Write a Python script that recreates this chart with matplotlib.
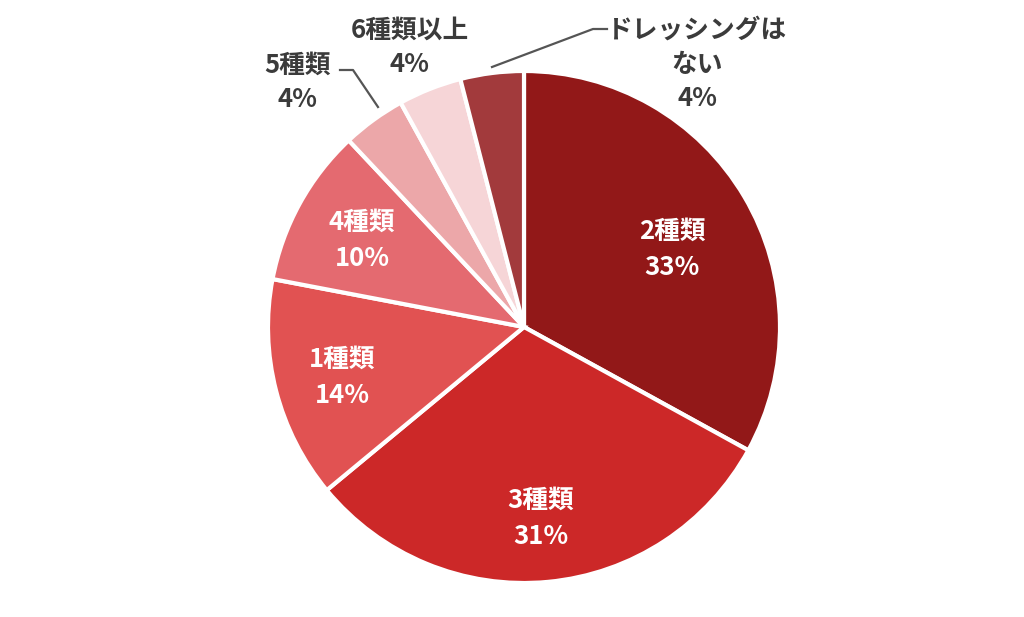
import matplotlib
matplotlib.use("Agg")
import matplotlib.pyplot as plt

plt.rcParams['font.family'] = ['Noto Sans CJK JP', 'DejaVu Sans']

# データ
labels = ['2種類', '3種類', '1種類', '4種類', '5種類', '6種類以上', 'ドレッシングは\nない']
values = [33, 31, 14, 10, 4, 4, 4]
colors = ['#921818', '#cc2828', '#e15252', '#e46a70', '#eca7a9', '#f6d5d7', '#a23a3c']

W, H = 1024, 617
fig = plt.figure(figsize=(W / 100, H / 100), dpi=100)
ax = fig.add_axes([0, 0, 1, 1])

def Y(py):
    # 画像座標 -> データ座標
    return H - py

cx, cy, r = 524, 327, 256
ax.pie(values, colors=colors, startangle=90, counterclock=False,
       center=(cx, Y(cy)), radius=r, frame=True,
       wedgeprops=dict(edgecolor='white', linewidth=3))
ax.set_xlim(0, W)
ax.set_ylim(0, H)
ax.axis('off')

fs = 18.5
# 内側ラベル (白)
inner_pos = [(672, 249), (541, 518), (342, 377), (362, 240)]
for i, (x, y) in enumerate(inner_pos):
    ax.text(x, Y(y), f'{labels[i]}\n{values[i]}%', color='white', fontsize=fs,
            fontweight='bold', ha='center', va='center', linespacing=1.45)

# 外側ラベル
txt_c = '#3b3b3b'
outer_pos = {4: (298, 82), 5: (410, 47), 6: (697, 64)}
for i, (x, y) in outer_pos.items():
    ax.text(x, Y(y), f'{labels[i]}\n{values[i]}%', color=txt_c, fontsize=fs,
            fontweight='bold', ha='center', va='center', linespacing=1.35)

# 引き出し線
ax.plot([340, 353, 378], [Y(70), Y(70), Y(107)], color='#555555', lw=1.6)
ax.plot([607, 593, 492], [Y(29), Y(29), Y(67)], color='#555555', lw=1.6)

fig.savefig('out.png', dpi=100, facecolor='white')
